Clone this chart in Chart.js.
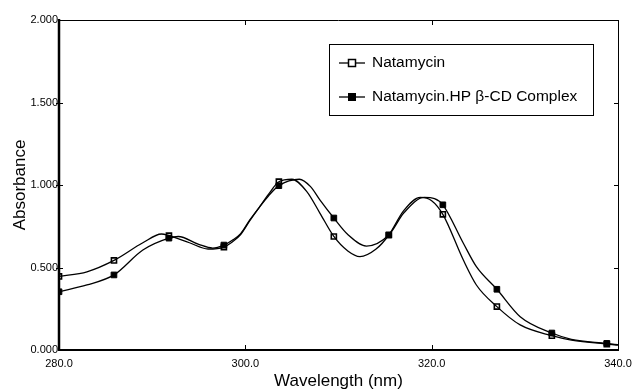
<!DOCTYPE html>
<html>
<head>
<meta charset="utf-8">
<script src="https://cdn.jsdelivr.net/npm/chart.js@4"></script>
<style>
  html, body { margin: 0; padding: 0; background: #fff; }
  #wrap { width: 633px; height: 390px; }
</style>
</head>
<body>
<div id="wrap"><canvas id="chart" width="633" height="390"></canvas></div>
<script>
// Wavelengths (nm) where the markers sit
const markerWl = [280.0, 285.9, 291.8, 297.7, 303.6, 309.5, 315.4, 321.2, 327.0, 332.9, 338.8];
const natamycinMarks = [0.446, 0.543, 0.693, 0.624, 1.020, 0.688, 0.697, 0.822, 0.263, 0.087, 0.036];
const complexMarks   = [0.353, 0.455, 0.678, 0.636, 0.996, 0.800, 0.697, 0.880, 0.368, 0.103, 0.040];

// Spectrum curves
const natamycinWl    = [280, 283, 285.9, 289, 291, 291.8, 294, 296, 297.7, 298.6, 299.5, 300.5, 301.5, 302.5, 303.6, 305, 306.6, 308, 309.5, 311, 312.3, 314, 315.4, 317, 318.8, 320, 321.2, 323.4, 324.8, 327.0, 329.5, 332.9, 335, 338.8, 340];
const natamycinCurve = [0.446, 0.474, 0.543, 0.650, 0.703, 0.693, 0.650, 0.612, 0.624, 0.655, 0.700, 0.785, 0.865, 0.945, 1.020, 1.035, 0.960, 0.830, 0.688, 0.600, 0.566, 0.610, 0.697, 0.845, 0.925, 0.905, 0.822, 0.545, 0.394, 0.263, 0.152, 0.087, 0.060, 0.036, 0.030];

const complexWl    = [280, 283, 285.9, 289, 291.8, 292.8, 295, 296.5, 297.7, 298.6, 299.5, 300.5, 301.5, 302.5, 303.6, 305.8, 307, 308, 309.5, 311, 313, 315.4, 317, 319.2, 320.3, 321.2, 323.4, 324.8, 327.0, 329.5, 332.9, 335, 338.8, 340];
const complexCurve = [0.353, 0.394, 0.455, 0.606, 0.678, 0.688, 0.640, 0.618, 0.636, 0.665, 0.705, 0.790, 0.865, 0.935, 0.996, 1.035, 0.990, 0.910, 0.800, 0.700, 0.630, 0.697, 0.830, 0.925, 0.918, 0.880, 0.647, 0.505, 0.368, 0.202, 0.103, 0.065, 0.040, 0.032];

const seriesNames = ['Natamycin', 'Natamycin.HP \u03B2-CD Complex'];
const xTicks = [280, 300, 320, 340];
const yTicks = [0, 0.5, 1.0, 1.5, 2.0];

const FONT = "'Liberation Sans Narrow', 'Liberation Sans', Arial, sans-serif";
const SANS = "'Liberation Sans', Arial, sans-serif";

const pts = (xs, ys) => xs.map((x, i) => ({ x, y: ys[i] }));

// frame, inward ticks, axis titles and the boxed legend
const framePlugin = {
    id: 'frame',
    afterDatasetsDraw(chart) {
        const { ctx, chartArea: a, scales: { x, y } } = chart;
        ctx.save();
        ctx.strokeStyle = '#000';
        ctx.lineCap = 'butt';

        // top & right (thin)
        ctx.lineWidth = 1;
        ctx.beginPath();
        ctx.moveTo(a.left, a.top + 0.5); ctx.lineTo(a.right, a.top + 0.5);
        ctx.moveTo(a.right + 0.5, a.top); ctx.lineTo(a.right + 0.5, a.bottom);
        ctx.stroke();

        // left & bottom (thick)
        ctx.lineWidth = 2.5;
        ctx.beginPath();
        ctx.moveTo(a.left, a.top - 1); ctx.lineTo(a.left, a.bottom + 1);
        ctx.stroke();
        ctx.lineWidth = 2;
        ctx.beginPath();
        ctx.moveTo(a.left - 1, a.bottom); ctx.lineTo(a.right + 1, a.bottom);
        ctx.stroke();

        // inward ticks
        ctx.lineWidth = 1;
        ctx.beginPath();
        yTicks.slice(1, -1).forEach(v => {
            const py = Math.round(y.getPixelForValue(v)) + 0.5;
            ctx.moveTo(a.left - 3, py); ctx.lineTo(a.left + 4, py);
            ctx.moveTo(a.right - 4, py); ctx.lineTo(a.right, py);
        });
        xTicks.slice(1, -1).forEach(v => {
            const px = Math.round(x.getPixelForValue(v)) + 0.5;
            ctx.moveTo(px, a.bottom); ctx.lineTo(px, a.bottom - 5);
            ctx.moveTo(px, a.top); ctx.lineTo(px, a.top + 5);
        });
        ctx.stroke();

        // axis titles
        ctx.fillStyle = '#000';
        ctx.font = '17px ' + SANS;
        ctx.textAlign = 'center';
        ctx.textBaseline = 'middle';
        ctx.fillText('Wavelength (nm)', (a.left + a.right) / 2, 381);
        ctx.save();
        ctx.translate(20, (a.top + a.bottom) / 2);
        ctx.rotate(-Math.PI / 2);
        ctx.fillText('Absorbance', 0, 0);
        ctx.restore();

        // legend
        const lx = 329, ly = 44, lw = 264, lh = 71;
        ctx.fillStyle = '#fff';
        ctx.fillRect(lx, ly, lw, lh);
        ctx.lineWidth = 1;
        ctx.strokeRect(lx + 0.5, ly + 0.5, lw, lh);
        const rows = [63, 97];
        rows.forEach((ry, i) => {
            ctx.lineWidth = 1.3;
            ctx.beginPath();
            ctx.moveTo(339, ry); ctx.lineTo(365, ry);
            ctx.stroke();
            if (i === 0) {
                ctx.fillStyle = '#fff';
                ctx.fillRect(348.5, ry - 3.5, 7, 7);
                ctx.lineWidth = 1.5;
                ctx.strokeRect(348.5, ry - 3.5, 7, 7);
            } else {
                ctx.fillStyle = '#000';
                ctx.fillRect(348, ry - 4, 8, 8);
            }
            ctx.fillStyle = '#000';
            ctx.font = '15.5px ' + SANS;
            ctx.textAlign = 'left';
            ctx.fillText(seriesNames[i], 372, ry);
        });
        ctx.restore();
    }
};

const curveStyle = {
    type: 'line',
    borderColor: '#000',
    borderWidth: 1.3,
    pointRadius: 0,
    fill: false,
    cubicInterpolationMode: 'monotone'
};

const markStyle = {
    type: 'line',
    showLine: false,
    pointStyle: 'rect',
    pointRadius: 4,
    pointBorderColor: '#000'
};

new Chart(document.getElementById('chart'), {
    type: 'line',
    data: {
        datasets: [
            { ...curveStyle, label: seriesNames[0], data: pts(natamycinWl, natamycinCurve) },
            { ...curveStyle, label: seriesNames[1], data: pts(complexWl, complexCurve) },
            { ...markStyle, label: seriesNames[1] + ' marks', data: pts(markerWl, complexMarks),
              pointBackgroundColor: '#000', pointBorderWidth: 1 },
            { ...markStyle, label: seriesNames[0] + ' marks', data: pts(markerWl, natamycinMarks),
              pointBackgroundColor: '#fff', pointBorderWidth: 1.6, pointRadius: 3.6 }
        ]
    },
    options: {
        responsive: false,
        animation: false,
        layout: { padding: { top: 20, right: 15, left: 0, bottom: 0 } },
        plugins: { legend: { display: false }, tooltip: { enabled: false } },
        scales: {
            x: {
                type: 'linear',
                min: 280, max: 340,
                afterFit: s => { s.height = 40; s.paddingLeft = 0; s.paddingRight = 0; },
                afterBuildTicks: s => { s.ticks = xTicks.map(v => ({ value: v })); },
                grid: { display: false, drawTicks: false },
                border: { display: false },
                ticks: {
                    padding: 7,
                    maxRotation: 0,
                    color: '#000',
                    font: { family: FONT, size: 11 },
                    callback: v => v.toFixed(1)
                }
            },
            y: {
                min: 0, max: 2,
                afterFit: s => { s.width = 59; s.paddingTop = 0; s.paddingBottom = 0; },
                afterBuildTicks: s => { s.ticks = yTicks.map(v => ({ value: v })); },
                grid: { display: false, drawTicks: false },
                border: { display: false },
                ticks: {
                    padding: 1,
                    color: '#000',
                    font: { family: FONT, size: 11 },
                    callback: v => v.toFixed(3)
                }
            }
        }
    },
    plugins: [framePlugin]
});
</script>
</body>
</html>
